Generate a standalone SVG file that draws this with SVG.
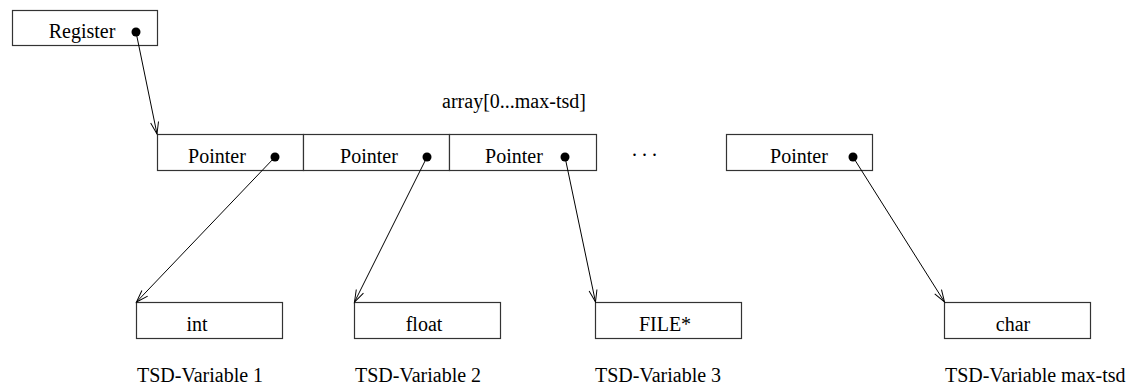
<svg xmlns="http://www.w3.org/2000/svg" width="1133" height="388" viewBox="0 0 1133 388">
  <style>
    .box { fill: #fff; stroke: #333; stroke-width: 1.2; }
    .lbl { font-family: "Liberation Serif", "Times New Roman", serif; font-size: 20px; fill: #000; }
    .mid { text-anchor: middle; }
    .dot { fill: #000; }
    .link { stroke: #000; stroke-width: 1; fill: none; marker-end: url(#openArrow); }
  </style>
  <defs>
    <marker id="openArrow" markerUnits="userSpaceOnUse" markerWidth="16" markerHeight="12" refX="0" refY="0" viewBox="-14 -6 16 12" orient="auto" overflow="visible">
      <path d="M-12,-4 L0,0 L-12,4" fill="none" stroke="#000" stroke-width="1"/>
    </marker>
  </defs>
  <rect width="1133" height="388" fill="#fff"/>

  <g id="register">
    <rect class="box" x="12.5" y="10.5" width="145" height="35"/>
    <text class="lbl mid" x="82" y="38">Register</text>
    <circle class="dot" cx="136" cy="32" r="4.5"/>
  </g>

  <g id="array-label">
    <text class="lbl mid" x="514" y="108">array[0...max-tsd]</text>
  </g>

  <g id="pointer-0">
    <rect class="box" x="157.5" y="134.5" width="146" height="36"/>
    <text class="lbl mid" x="217" y="163">Pointer</text>
    <circle class="dot" cx="275" cy="157" r="4.5"/>
  </g>
  <g id="pointer-1">
    <rect class="box" x="303.5" y="134.5" width="146" height="36"/>
    <text class="lbl mid" x="369" y="163">Pointer</text>
    <circle class="dot" cx="427" cy="157" r="4.5"/>
  </g>
  <g id="pointer-2">
    <rect class="box" x="449.5" y="134.5" width="147" height="36"/>
    <text class="lbl mid" x="514" y="163">Pointer</text>
    <circle class="dot" cx="565" cy="157" r="4.5"/>
  </g>
  <g id="ellipsis">
    <text class="lbl" x="632" y="156">. . .</text>
  </g>
  <g id="pointer-max">
    <rect class="box" x="726.5" y="134.5" width="146" height="36"/>
    <text class="lbl mid" x="799" y="163">Pointer</text>
    <circle class="dot" cx="853" cy="157" r="4.5"/>
  </g>

  <g id="var-1">
    <rect class="box" x="136.5" y="302.5" width="146" height="36"/>
    <text class="lbl mid" x="197" y="331">int</text>
    <text class="lbl" x="137" y="382">TSD-Variable 1</text>
  </g>
  <g id="var-2">
    <rect class="box" x="354.5" y="302.5" width="146" height="36"/>
    <text class="lbl mid" x="424" y="331">float</text>
    <text class="lbl" x="355" y="382">TSD-Variable 2</text>
  </g>
  <g id="var-3">
    <rect class="box" x="595.5" y="302.5" width="146" height="36"/>
    <text class="lbl mid" x="665" y="331">FILE*</text>
    <text class="lbl" x="595" y="382">TSD-Variable 3</text>
  </g>
  <g id="var-max">
    <rect class="box" x="944.5" y="302.5" width="146" height="36"/>
    <text class="lbl mid" x="1013" y="331">char</text>
    <text class="lbl" x="945" y="382">TSD-Variable max-tsd</text>
  </g>

  <g id="connectors">
    <line class="link" x1="136" y1="32" x2="157" y2="134"/>
    <line class="link" x1="275" y1="157" x2="136.5" y2="302"/>
    <line class="link" x1="427" y1="157" x2="354.5" y2="302"/>
    <line class="link" x1="565" y1="157" x2="595.5" y2="302"/>
    <line class="link" x1="853" y1="157" x2="944.5" y2="302"/>
  </g>
</svg>
